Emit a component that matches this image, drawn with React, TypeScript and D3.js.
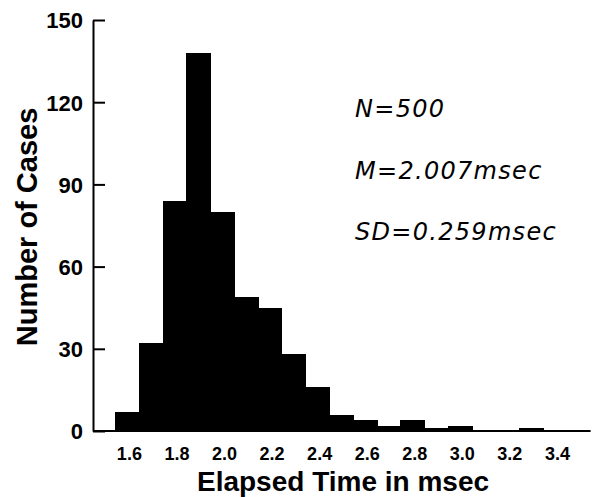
import React, { useEffect, useRef } from 'react';
import * as d3 from 'd3';

// bin centres (msec) and counts per bin
const binCenters = [1.6, 1.7, 1.8, 1.9, 2.0, 2.1, 2.2, 2.3, 2.4, 2.5, 2.6, 2.7, 2.8, 2.9, 3.0, 3.1, 3.2, 3.3];
const counts = [7, 32, 84, 138, 80, 49, 45, 28, 16, 6, 4, 2, 4, 1, 2, 0, 0, 1];
const xTicks = [1.6, 1.8, 2.0, 2.2, 2.4, 2.6, 2.8, 3.0, 3.2, 3.4];
const yTicks = [0, 30, 60, 90, 120, 150];
const notes = ['N=500', 'M=2.007msec', 'SD=0.259msec'];

const App = () => {
    const ref = useRef<SVGSVGElement>(null);

    useEffect(() => {
        const svg = d3.select(ref.current);
        svg.selectAll('*').remove();

        const binWidth = 0.1;
        const x = d3.scaleLinear().domain([1.55, 3.55]).range([115, 590.6]);
        const y = d3.scaleLinear().domain([0, 150]).range([431, 20]);
        const axisX = 93;

        // bars (no seams between neighbouring bins)
        svg.append('g')
            .attr('shape-rendering', 'crispEdges')
            .selectAll('rect')
            .data(binCenters)
            .join('rect')
            .attr('x', d => x(d - binWidth / 2))
            .attr('width', d => x(d + binWidth / 2) - x(d - binWidth / 2) + 1)
            .attr('y', (d, i) => y(counts[i]))
            .attr('height', (d, i) => y(0) - y(counts[i]))
            .attr('fill', '#000');

        // baseline
        svg.append('line')
            .attr('x1', axisX)
            .attr('x2', x.range()[1])
            .attr('y1', y(0))
            .attr('y2', y(0))
            .attr('stroke', '#000')
            .attr('stroke-width', 2);

        // y axis, ticks pointing inward
        const yAxis = svg.append('g')
            .attr('transform', `translate(${axisX},0)`)
            .call(d3.axisLeft(y)
                .tickValues(yTicks)
                .tickSizeInner(-12)
                .tickSizeOuter(0)
                .tickPadding(10));
        yAxis.select('.domain').attr('stroke-width', 2);
        yAxis.selectAll('.tick line').attr('stroke-width', 2);
        yAxis.selectAll('.tick text')
            .attr('dy', '0.36em')
            .style('font-family', '"Liberation Sans", Arial, sans-serif')
            .style('font-weight', 'bold')
            .style('font-size', '22px')
            .style('fill', '#000');

        // x axis labels only
        const xAxis = svg.append('g')
            .attr('transform', `translate(0,${y(0)})`)
            .call(d3.axisBottom(x)
                .tickValues(xTicks)
                .tickSize(0)
                .tickPadding(16)
                .tickFormat(d => (d as number).toFixed(1)));
        xAxis.select('.domain').remove();
        xAxis.selectAll('.tick text')
            .attr('dx', 2)
            .style('font-family', '"Liberation Sans", Arial, sans-serif')
            .style('font-weight', 'bold')
            .style('font-size', '18px')
            .style('fill', '#000');

        // axis titles
        svg.append('text')
            .attr('x', 343)
            .attr('y', 491)
            .attr('text-anchor', 'middle')
            .style('font-family', '"Liberation Sans", Arial, sans-serif')
            .style('font-weight', 'bold')
            .style('font-size', '28px')
            .text('Elapsed Time in msec');

        svg.append('text')
            .attr('transform', 'rotate(-90)')
            .attr('x', -227)
            .attr('y', 37)
            .attr('text-anchor', 'middle')
            .style('font-family', '"Liberation Sans", Arial, sans-serif')
            .style('font-weight', 'bold')
            .style('font-size', '29px')
            .text('Number of Cases');

        // summary statistics
        svg.append('g')
            .selectAll('text')
            .data(notes)
            .join('text')
            .attr('x', 355)
            .attr('y', (d, i) => 117 + i * 61.5)
            .style('font-family', '"DejaVu Sans", sans-serif')
            .style('font-style', 'italic')
            .style('font-size', '24px')
            .style('letter-spacing', '1.3px')
            .text(d => d);
    }, []);

    return (
        <svg
            ref={ref}
            width={592}
            height={497}
            style={{ position: 'absolute', left: 0, top: 0, background: '#fff' }}
        />
    );
};

export default App;
